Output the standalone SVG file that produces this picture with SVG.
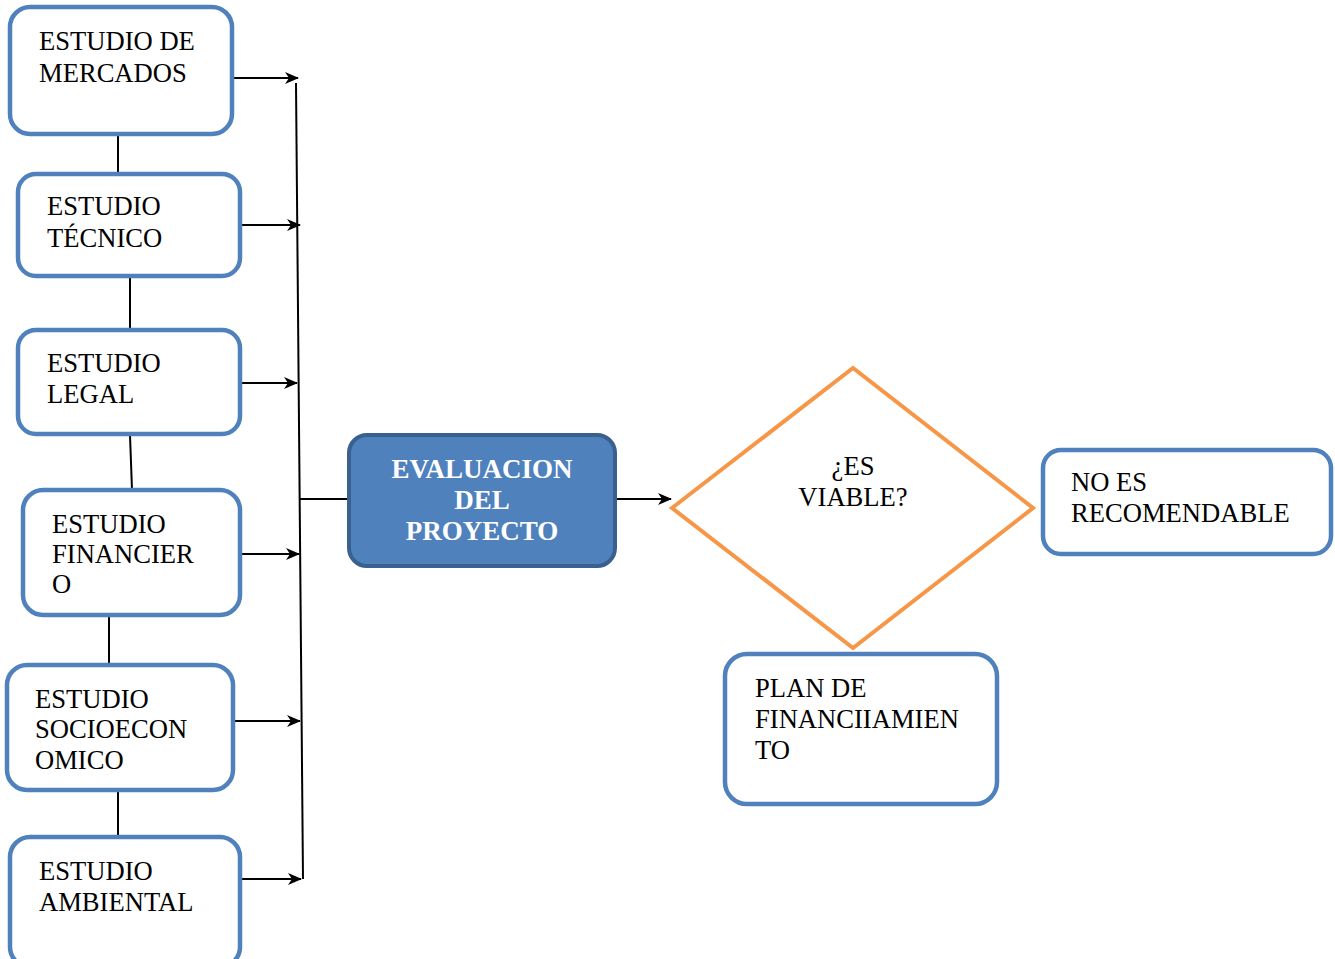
<svg xmlns="http://www.w3.org/2000/svg" width="1335" height="959" viewBox="0 0 1335 959">
<style>
.box{fill:#ffffff;stroke:#4F81BD;stroke-width:4.5}
.t{font-family:"Liberation Serif","Times New Roman",serif;font-size:26.6px;fill:#000}
.w{font-family:"Liberation Serif","Times New Roman",serif;font-size:27px;font-weight:bold;fill:#ffffff;text-anchor:middle}
.c{stroke:#000;stroke-width:2;fill:none}
</style>
<defs>
<marker id="ah" viewBox="0 0 14 12" refX="13" refY="6" markerWidth="14" markerHeight="12" markerUnits="userSpaceOnUse" orient="auto">
<path d="M0,0 L14,6 L0,12 L4,6 Z" fill="#000"/>
</marker>
</defs>
<g id="connectors">
<line class="c" x1="118" y1="136" x2="118" y2="174"/>
<line class="c" x1="130" y1="277" x2="130" y2="330"/>
<line class="c" x1="130" y1="435" x2="132" y2="490"/>
<line class="c" x1="109" y1="616" x2="109" y2="665"/>
<line class="c" x1="118" y1="791" x2="118" y2="837"/>
<line class="c" x1="296" y1="83" x2="303" y2="879"/>
<line class="c" x1="230" y1="78" x2="298" y2="78" marker-end="url(#ah)"/>
<line class="c" x1="231" y1="225" x2="300" y2="225" marker-end="url(#ah)"/>
<line class="c" x1="242" y1="383" x2="297" y2="383" marker-end="url(#ah)"/>
<line class="c" x1="242" y1="554" x2="299" y2="554" marker-end="url(#ah)"/>
<line class="c" x1="230" y1="721" x2="300" y2="721" marker-end="url(#ah)"/>
<line class="c" x1="230" y1="879" x2="301" y2="879" marker-end="url(#ah)"/>
<line class="c" x1="300" y1="499" x2="349" y2="499"/>
<line class="c" x1="617" y1="499" x2="671" y2="499" marker-end="url(#ah)"/>
</g>
<g id="n-mercados">
<rect class="box" x="10" y="7" width="222" height="127" rx="20"/>
<text class="t" x="39" y="50">ESTUDIO DE</text>
<text class="t" x="39" y="82">MERCADOS</text>
</g>
<g id="n-tecnico">
<rect class="box" x="18" y="174" width="222" height="102" rx="18"/>
<text class="t" x="47" y="215">ESTUDIO</text>
<text class="t" x="47" y="247">TÉCNICO</text>
</g>
<g id="n-legal">
<rect class="box" x="18" y="330" width="222" height="104" rx="18"/>
<text class="t" x="47" y="372">ESTUDIO</text>
<text class="t" x="47" y="403">LEGAL</text>
</g>
<g id="n-financiero">
<rect class="box" x="23" y="490" width="217" height="125" rx="20"/>
<text class="t" x="52" y="533">ESTUDIO</text>
<text class="t" x="52" y="563">FINANCIER</text>
<text class="t" x="52" y="593">O</text>
</g>
<g id="n-socio">
<rect class="box" x="7" y="665" width="226" height="125" rx="20"/>
<text class="t" x="35" y="708">ESTUDIO</text>
<text class="t" x="35" y="738">SOCIOECON</text>
<text class="t" x="35" y="769">OMICO</text>
</g>
<g id="n-ambiental">
<rect class="box" x="10" y="837" width="230" height="130" rx="20"/>
<text class="t" x="39" y="880">ESTUDIO</text>
<text class="t" x="39" y="911">AMBIENTAL</text>
</g>
<g id="n-evaluacion">
<rect x="349" y="435" width="266" height="131" rx="18" fill="#4F81BD" stroke="#3A6090" stroke-width="4"/>
<text class="w" x="482" y="478">EVALUACION</text>
<text class="w" x="482" y="509">DEL</text>
<text class="w" x="482" y="540">PROYECTO</text>
</g>
<g id="n-viable">
<polygon points="672,508 853,368 1033,508 853,648" fill="#ffffff" stroke="#F79646" stroke-width="4"/>
<text class="t" x="853" y="475" text-anchor="middle">¿ES</text>
<text class="t" x="853" y="506" text-anchor="middle">VIABLE?</text>
</g>
<g id="n-norecomendable">
<rect class="box" x="1043" y="450" width="288" height="104" rx="18"/>
<text class="t" x="1071" y="491">NO ES</text>
<text class="t" x="1071" y="522">RECOMENDABLE</text>
</g>
<g id="n-plan">
<rect class="box" x="725" y="654" width="272" height="150" rx="22"/>
<text class="t" x="755" y="697">PLAN DE</text>
<text class="t" x="755" y="728">FINANCIIAMIEN</text>
<text class="t" x="755" y="759">TO</text>
</g>
</svg>
